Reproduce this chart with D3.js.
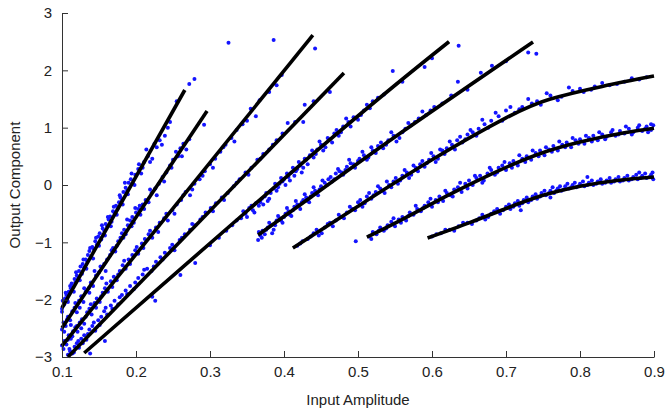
<!DOCTYPE html>
<html>
<head>
<meta charset="utf-8">
<script src="https://cdn.jsdelivr.net/npm/d3@7"></script>
<style>
  html, body { margin: 0; padding: 0; background: #fff; }
  svg { display: block; font-family: "Liberation Sans", Arial, Helvetica, sans-serif; }
</style>
</head>
<body>
<svg id="chart" width="665" height="412"></svg>
<script>
// ---------- data ----------
const xTicks = [0.1, 0.2, 0.3, 0.4, 0.5, 0.6, 0.7, 0.8, 0.9];
const yTicks = [-3, -2, -1, 0, 1, 2, 3];
const xLabel = "Input Amplitude";
const yLabel = "Output Component";

// fitted curves: [input amplitude, output component]
const curve1 = [[0.1,-2.145],[0.266,1.657]];
const curve2 = [[0.1,-2.494],[0.296,1.291]];
const curve3 = [[0.1,-2.808],[0.439,2.616]];
const curve4 = [[0.108,-3.0],[0.481,1.953]];
const curve5 = [[0.130,-2.93],[0.25,-1.58],[0.354,-0.41],[0.45,0.66],[0.55,1.74],[0.623,2.50]];
const curve6 = [[0.365,-0.872],[0.431,-0.262],[0.557,0.902],[0.7365,2.494]];
const curve7 = [[0.412,-1.10],[0.5,-0.37],[0.6,0.44],[0.7,1.17],[0.76,1.50],[0.83,1.72],[0.9,1.90]];
const curve8 = [[0.512,-0.91],[0.56,-0.60],[0.62,-0.19],[0.68,0.19],[0.74,0.52],[0.80,0.75],[0.86,0.91],[0.9,0.99]];
const curve9 = [[0.594,-0.924],[0.65,-0.66],[0.70,-0.41],[0.75,-0.18],[0.80,-0.02],[0.85,0.08],[0.9,0.14]];

// measured points
const dots1 = [[0.100,-2.16],[0.101,-2.02],[0.103,-2.08],[0.104,-1.98],[0.106,-1.92],[0.107,-2.01],[0.109,-1.86],[0.110,-1.90],[0.112,-1.80],[0.113,-1.72],[0.115,-1.78],[0.117,-1.64],[0.118,-1.70],[0.120,-1.58],[0.122,-1.62],[0.123,-1.50],[0.125,-1.42],[0.127,-1.55],[0.128,-1.38],[0.130,-1.44],[0.132,-1.30],[0.134,-1.34],[0.135,-1.22],[0.137,-1.15],[0.139,-1.26],[0.141,-1.08],[0.143,-1.12],[0.145,-0.98],[0.147,-1.04],[0.149,-0.90],[0.151,-0.84],[0.153,-0.95],[0.155,-0.76],[0.157,-0.80],[0.159,-0.68],[0.161,-0.72],[0.163,-0.60],[0.165,-0.55],[0.167,-0.64],[0.169,-0.46],[0.171,-0.50],[0.173,-0.36],[0.175,-0.42],[0.177,-0.30],[0.179,-0.22],[0.181,-0.26],[0.183,-0.12],[0.186,-0.05],[0.188,-0.10],[0.190,0.04],[0.193,0.10],[0.196,0.02],[0.199,0.18],[0.203,0.28],[0.207,0.20],[0.211,0.40],[0.216,0.50],[0.222,0.46],[0.228,0.66],[0.232,0.78],[0.239,0.86],[0.246,1.10],[0.255,1.46],[0.272,1.76],[0.279,1.85],[0.100,-2.21],
  [0.102,-2.10],[0.105,-1.88],[0.108,-2.04],[0.111,-1.76],[0.116,-1.86],[0.119,-1.52],[0.124,-1.66],[0.129,-1.30],[0.133,-1.46],[0.138,-1.10],[0.142,-1.28],[0.146,-0.92],[0.150,-1.06],[0.154,-0.70],[0.158,-0.88],[0.162,-0.56],[0.166,-0.72],[0.170,-0.38],[0.174,-0.52],[0.178,-0.18],[0.182,-0.34],[0.185,0.04],[0.189,-0.16],[0.194,0.20],[0.198,0.00],[0.204,0.36],[0.209,0.30],[0.214,0.62],[0.219,0.40],[0.225,0.72],[0.235,0.70],[0.243,1.00]];
const dots2 = [[0.100,-2.52],[0.102,-2.40],[0.105,-2.46],[0.108,-2.30],[0.111,-2.36],[0.114,-2.20],[0.117,-2.14],[0.120,-2.22],[0.123,-2.02],[0.126,-1.94],[0.129,-2.04],[0.132,-1.86],[0.136,-1.80],[0.139,-1.70],[0.142,-1.76],[0.146,-1.58],[0.150,-1.52],[0.154,-1.62],[0.157,-1.38],[0.161,-1.30],[0.165,-1.22],[0.169,-1.10],[0.172,-1.16],[0.176,-0.98],[0.179,-0.92],[0.181,-0.84],[0.184,-0.78],[0.186,-0.86],[0.189,-0.70],[0.192,-0.62],[0.195,-0.56],[0.197,-0.66],[0.200,-0.48],[0.203,-0.42],[0.206,-0.52],[0.209,-0.34],[0.213,-0.26],[0.217,-0.30],[0.221,-0.14],[0.226,-0.06],[0.231,0.02],[0.236,0.14],[0.241,0.22],[0.246,0.34],[0.250,0.44],[0.254,0.58],[0.257,0.50],[0.260,0.64],[0.264,0.72],[0.268,0.62],[0.272,0.80],[0.292,1.05],
  [0.103,-2.56],[0.107,-2.34],[0.112,-2.44],[0.118,-2.06],[0.124,-2.14],[0.130,-1.80],[0.137,-1.88],[0.144,-1.50],[0.152,-1.42],[0.159,-1.50],[0.167,-1.14],[0.174,-1.06],[0.183,-0.92],[0.188,-0.60],[0.194,-0.72],[0.199,-0.40],[0.205,-0.36],[0.211,-0.42],[0.219,-0.08],[0.228,-0.18],[0.238,0.06],[0.248,0.30],[0.262,0.50]];
const dots3 = [[0.100,-2.80],[0.103,-2.72],[0.106,-2.78],[0.109,-2.62],[0.112,-2.68],[0.115,-2.55],[0.118,-2.48],[0.121,-2.56],[0.124,-2.40],[0.127,-2.34],[0.130,-2.42],[0.134,-2.22],[0.137,-2.16],[0.140,-2.26],[0.144,-2.06],[0.147,-1.98],[0.151,-2.04],[0.155,-1.88],[0.158,-1.80],[0.162,-1.86],[0.166,-1.68],[0.170,-1.60],[0.174,-1.66],[0.178,-1.50],[0.182,-1.40],[0.186,-1.46],[0.190,-1.30],[0.195,-1.22],[0.199,-1.14],[0.203,-1.20],[0.208,-1.02],[0.212,-0.94],[0.217,-0.86],[0.222,-0.92],[0.227,-0.74],[0.232,-0.66],[0.238,-0.58],[0.243,-0.62],[0.249,-0.44],[0.255,-0.34],[0.261,-0.26],[0.267,-0.12],[0.273,-0.18],[0.279,0.02],[0.286,0.10],[0.293,0.24],[0.300,0.36],[0.307,0.46],[0.314,0.58],[0.321,0.70],[0.329,0.82],[0.336,0.96],[0.344,1.06],[0.355,1.33],[0.367,1.48],[0.380,1.62],[0.390,1.74],[0.397,1.92],[0.325,2.48],[0.386,2.53],
  [0.102,-2.86],[0.108,-2.70],[0.114,-2.64],[0.120,-2.46],[0.126,-2.50],[0.132,-2.30],[0.139,-2.08],[0.146,-2.14],[0.153,-1.94],[0.160,-1.72],[0.168,-1.78],[0.176,-1.56],[0.184,-1.32],[0.192,-1.38],[0.201,-1.08],[0.210,-1.10],[0.219,-0.80],[0.230,-0.82],[0.241,-0.50],[0.252,-0.50],[0.264,-0.18],[0.276,-0.08],[0.290,0.16],[0.304,0.30],[0.318,0.66],[0.333,0.76],[0.350,1.12],[0.362,1.20]];
const dots4 = [[0.108,-2.96],[0.111,-2.90],[0.114,-2.94],[0.117,-2.82],[0.120,-2.76],[0.123,-2.84],[0.126,-2.68],[0.130,-2.62],[0.133,-2.70],[0.137,-2.52],[0.141,-2.46],[0.145,-2.54],[0.149,-2.36],[0.153,-2.30],[0.157,-2.20],[0.161,-2.26],[0.166,-2.10],[0.171,-2.02],[0.176,-2.08],[0.181,-1.92],[0.186,-1.84],[0.192,-1.76],[0.197,-1.82],[0.203,-1.62],[0.209,-1.56],[0.215,-1.46],[0.221,-1.50],[0.227,-1.34],[0.233,-1.26],[0.239,-1.18],[0.246,-1.10],[0.252,-1.14],[0.259,-0.96],[0.266,-0.86],[0.273,-0.78],[0.280,-0.70],[0.287,-0.60],[0.294,-0.48],[0.301,-0.40],[0.308,-0.32],[0.316,-0.22],[0.324,-0.14],[0.332,-0.02],[0.340,0.10],[0.348,0.22],[0.356,0.30],[0.364,0.44],[0.372,0.54],[0.380,0.62],[0.390,0.78],[0.405,1.08],[0.426,1.10],[0.428,1.40],[0.440,1.46],[0.462,1.62],
  [0.110,-2.86],[0.116,-2.92],[0.122,-2.72],[0.128,-2.76],[0.135,-2.60],[0.143,-2.40],[0.151,-2.44],[0.159,-2.14],[0.168,-2.16],[0.178,-1.96],[0.188,-1.90],[0.199,-1.70],[0.211,-1.48],[0.224,-1.42],[0.236,-1.30],[0.249,-1.04],[0.262,-0.92],[0.276,-0.68],[0.290,-0.56],[0.304,-0.46],[0.319,-0.26],[0.336,0.04],[0.352,0.18],[0.368,0.46],[0.385,0.70],[0.398,0.90],[0.415,1.10]];
const dots5 = [[0.138,-2.94],[0.158,-2.72],[0.222,-1.95],[0.226,-2.02],[0.260,-1.57],[0.280,-1.36],[0.300,-1.05],[0.312,-0.92],[0.322,-0.80],[0.330,-0.70],[0.336,-0.62],[0.342,-0.58],[0.348,-0.50],[0.353,-0.40],[0.358,-0.44],[0.362,-0.32],[0.366,-0.36],[0.370,-0.24],[0.374,-0.20],[0.378,-0.28],[0.382,-0.14],[0.386,-0.06],[0.390,-0.10],[0.394,0.02],[0.398,0.06],[0.402,0.00],[0.406,0.14],[0.410,0.22],[0.414,0.16],[0.418,0.28],[0.422,0.34],[0.426,0.30],[0.430,0.44],[0.435,0.52],[0.440,0.48],[0.445,0.62],[0.450,0.70],[0.456,0.66],[0.462,0.80],[0.468,0.90],[0.474,0.86],[0.480,1.02],[0.487,1.10],[0.494,1.18],[0.500,1.14],[0.508,1.30],[0.516,1.34],[0.527,1.52],[0.547,1.99],[0.590,2.06],[0.600,2.21],[0.636,2.43],[0.442,2.38],
  [0.345,-0.46],[0.350,-0.56],[0.356,-0.36],[0.360,-0.48],[0.368,-0.30],[0.372,-0.34],[0.376,-0.14],[0.380,-0.24],[0.388,0.02],[0.392,-0.04],[0.396,0.12],[0.400,0.10],[0.404,0.20],[0.408,0.08],[0.412,0.30],[0.416,0.24],[0.420,0.40],[0.424,0.22],[0.428,0.46],[0.432,0.36],[0.438,0.60],[0.443,0.54],[0.448,0.76],[0.453,0.60],[0.459,0.82],[0.465,0.74],[0.471,0.96],[0.477,0.92],[0.484,1.16],[0.490,1.02],[0.504,1.22],[0.512,1.40],[0.520,1.46],[0.535,1.58],[0.560,1.80]];
const dots6 = [[0.365,-0.96],[0.368,-0.88],[0.371,-0.80],[0.374,-0.86],[0.378,-0.74],[0.382,-0.70],[0.386,-0.78],[0.390,-0.62],[0.394,-0.58],[0.398,-0.66],[0.402,-0.50],[0.406,-0.46],[0.410,-0.54],[0.414,-0.38],[0.418,-0.34],[0.422,-0.42],[0.426,-0.26],[0.430,-0.22],[0.434,-0.30],[0.438,-0.14],[0.442,-0.10],[0.446,-0.18],[0.450,-0.02],[0.455,0.04],[0.460,0.10],[0.465,0.06],[0.470,0.20],[0.475,0.24],[0.480,0.18],[0.485,0.32],[0.490,0.38],[0.496,0.30],[0.502,0.46],[0.508,0.52],[0.514,0.48],[0.520,0.60],[0.527,0.68],[0.534,0.64],[0.541,0.78],[0.548,0.86],[0.556,0.82],[0.564,0.98],[0.572,1.04],[0.582,1.16],[0.592,1.22],[0.603,1.36],[0.614,1.42],[0.626,1.56],[0.635,1.80],[0.648,1.66],[0.666,1.96],[0.681,2.08],[0.700,2.16],[0.730,2.31],[0.741,2.29],[0.497,-0.98],
  [0.366,-0.82],[0.370,-0.92],[0.376,-0.78],[0.380,-0.66],[0.384,-0.84],[0.388,-0.70],[0.392,-0.54],[0.396,-0.62],[0.400,-0.56],[0.404,-0.40],[0.408,-0.52],[0.412,-0.44],[0.416,-0.28],[0.420,-0.36],[0.424,-0.30],[0.428,-0.16],[0.432,-0.28],[0.436,-0.20],[0.440,-0.04],[0.444,-0.14],[0.448,-0.08],[0.452,0.08],[0.458,0.00],[0.463,0.14],[0.468,0.10],[0.473,0.28],[0.478,0.22],[0.483,0.26],[0.488,0.44],[0.494,0.36],[0.500,0.42],[0.506,0.58],[0.512,0.44],[0.518,0.66],[0.524,0.56],[0.531,0.74],[0.538,0.70],[0.545,0.92],[0.552,0.76],[0.560,0.92],[0.568,1.08],[0.577,1.10],[0.587,1.28],[0.598,1.30]];
const dots7 = [[0.418,-1.06],[0.425,-0.98],[0.432,-0.94],[0.440,-0.84],[0.447,-0.88],[0.455,-0.74],[0.462,-0.66],[0.470,-0.62],[0.477,-0.56],[0.485,-0.48],[0.492,-0.42],[0.500,-0.30],[0.506,-0.38],[0.512,-0.20],[0.518,-0.24],[0.524,-0.12],[0.530,-0.06],[0.536,-0.14],[0.542,0.00],[0.548,0.06],[0.554,0.02],[0.560,0.16],[0.566,0.22],[0.572,0.18],[0.578,0.30],[0.584,0.36],[0.590,0.32],[0.596,0.44],[0.602,0.50],[0.608,0.46],[0.614,0.60],[0.620,0.64],[0.627,0.70],[0.634,0.78],[0.641,0.74],[0.648,0.88],[0.655,0.92],[0.663,0.98],[0.671,1.06],[0.680,1.12],[0.690,1.20],[0.700,1.30],[0.712,1.26],[0.722,1.36],[0.735,1.42],[0.747,1.40],[0.760,1.56],[0.775,1.54],[0.790,1.64],[0.805,1.62],[0.820,1.72],[0.840,1.74],[0.860,1.80],[0.880,1.84],
  [0.422,-1.02],[0.436,-0.90],[0.444,-0.78],[0.451,-0.84],[0.459,-0.68],[0.466,-0.72],[0.474,-0.52],[0.481,-0.58],[0.489,-0.38],[0.496,-0.44],[0.503,-0.26],[0.509,-0.32],[0.515,-0.14],[0.521,-0.18],[0.527,-0.02],[0.533,-0.10],[0.539,0.06],[0.545,-0.04],[0.551,0.12],[0.557,0.08],[0.563,0.26],[0.569,0.12],[0.575,0.34],[0.581,0.24],[0.587,0.42],[0.593,0.38],[0.599,0.56],[0.605,0.40],[0.611,0.62],[0.617,0.54],[0.624,0.76],[0.631,0.62],[0.638,0.84],[0.645,0.80],[0.652,0.96],[0.660,0.86],[0.668,1.14],[0.676,1.00],[0.686,1.26],[0.695,1.12],[0.706,1.36],[0.718,1.32],[0.730,1.50],[0.742,1.46],[0.755,1.60],[0.770,1.48],[0.785,1.70],[0.800,1.68],[0.815,1.66],[0.830,1.78],[0.850,1.76],[0.870,1.86],[0.890,1.88]];
const dots8 = [[0.515,-0.90],[0.520,-0.82],[0.525,-0.86],[0.530,-0.74],[0.535,-0.80],[0.540,-0.70],[0.545,-0.64],[0.550,-0.72],[0.555,-0.60],[0.560,-0.56],[0.565,-0.62],[0.570,-0.48],[0.575,-0.52],[0.580,-0.42],[0.585,-0.46],[0.590,-0.36],[0.595,-0.30],[0.600,-0.38],[0.605,-0.26],[0.610,-0.20],[0.615,-0.28],[0.620,-0.14],[0.625,-0.18],[0.630,-0.08],[0.635,-0.04],[0.640,-0.12],[0.645,0.02],[0.650,0.08],[0.655,0.00],[0.660,0.12],[0.665,0.16],[0.670,0.08],[0.675,0.20],[0.680,0.26],[0.685,0.18],[0.690,0.30],[0.695,0.34],[0.700,0.26],[0.705,0.38],[0.710,0.42],[0.716,0.34],[0.722,0.46],[0.728,0.50],[0.734,0.44],[0.740,0.56],[0.746,0.60],[0.752,0.52],[0.758,0.62],[0.764,0.68],[0.770,0.60],[0.776,0.70],[0.782,0.74],[0.788,0.66],[0.794,0.78],[0.800,0.80],[0.806,0.72],[0.812,0.82],[0.818,0.86],[0.824,0.78],[0.830,0.88],[0.836,0.84],[0.842,0.92],[0.848,0.86],[0.854,0.94],[0.860,0.90],[0.866,0.98],[0.872,0.92],[0.878,1.00],[0.884,0.94],[0.890,1.02],[0.896,0.96],[0.899,1.04],
  [0.518,-0.94],[0.528,-0.80],[0.538,-0.76],[0.548,-0.58],[0.558,-0.66],[0.568,-0.54],[0.578,-0.36],[0.588,-0.40],[0.598,-0.24],[0.608,-0.30],[0.618,-0.10],[0.628,-0.20],[0.638,0.04],[0.648,-0.06],[0.658,0.16],[0.668,0.04],[0.678,0.30],[0.688,0.22],[0.698,0.40],[0.708,0.30],[0.718,0.52],[0.726,0.40],[0.736,0.60],[0.744,0.50],[0.754,0.66],[0.762,0.58],[0.772,0.76],[0.780,0.66],[0.790,0.82],[0.798,0.72],[0.808,0.86],[0.816,0.76],[0.826,0.92],[0.834,0.80],[0.844,0.96],[0.852,0.88],[0.862,1.02],[0.870,0.88],[0.880,1.04],[0.888,0.98],[0.896,1.06],[0.892,0.92]];
const dots9 = [[0.600,-0.90],[0.612,-0.84],[0.624,-0.78],[0.636,-0.72],[0.648,-0.66],[0.660,-0.62],[0.668,-0.52],[0.676,-0.56],[0.684,-0.46],[0.692,-0.50],[0.700,-0.38],[0.706,-0.42],[0.712,-0.32],[0.718,-0.36],[0.724,-0.26],[0.730,-0.30],[0.736,-0.20],[0.742,-0.24],[0.748,-0.14],[0.754,-0.18],[0.760,-0.10],[0.765,-0.14],[0.770,-0.06],[0.775,-0.10],[0.780,-0.02],[0.785,-0.06],[0.790,0.00],[0.795,-0.04],[0.800,0.02],[0.806,-0.02],[0.812,0.04],[0.818,0.00],[0.824,0.06],[0.830,0.02],[0.836,0.08],[0.842,0.04],[0.848,0.10],[0.854,0.06],[0.860,0.12],[0.866,0.08],[0.872,0.14],[0.878,0.10],[0.884,0.16],[0.890,0.12],[0.896,0.18],[0.899,0.10],[0.720,-0.44],[0.760,-0.22],[0.810,0.14],[0.880,0.22],
  [0.606,-0.86],[0.618,-0.78],[0.630,-0.80],[0.642,-0.66],[0.654,-0.68],[0.664,-0.58],[0.672,-0.60],[0.680,-0.50],[0.688,-0.42],[0.696,-0.44],[0.704,-0.34],[0.710,-0.38],[0.716,-0.28],[0.722,-0.32],[0.728,-0.22],[0.734,-0.26],[0.740,-0.16],[0.746,-0.20],[0.752,-0.10],[0.758,-0.14],[0.763,-0.04],[0.768,-0.10],[0.773,-0.02],[0.778,-0.08],[0.783,0.02],[0.788,-0.04],[0.793,0.04],[0.798,-0.02],[0.804,0.06],[0.810,0.00],[0.816,0.08],[0.822,0.02],[0.828,0.10],[0.834,0.04],[0.840,0.12],[0.846,0.06],[0.852,0.14],[0.858,0.08],[0.864,0.16],[0.870,0.10],[0.876,0.18],[0.882,0.12],[0.888,0.20],[0.894,0.14],[0.898,0.22]];

const curves = [curve1, curve2, curve3, curve4, curve5, curve6, curve7, curve8, curve9];
const dotSets = [dots1, dots2, dots3, dots4, dots5, dots6, dots7, dots8, dots9];

// ---------- layout ----------
const W = 665, H = 412;
const margin = { left: 62, right: 11, top: 13, bottom: 55 };
const svg = d3.select("#chart");

const x = d3.scaleLinear().domain([0.1, 0.9]).range([margin.left, W - margin.right]);
const y = d3.scaleLinear().domain([-3, 3]).range([H - margin.bottom, margin.top]);

// dots
const dotG = svg.append("g");
dotSets.forEach(set => {
  dotG.selectAll(null).data(set).enter().append("circle")
    .attr("cx", d => x(d[0]))
    .attr("cy", d => y(d[1]))
    .attr("r", 2)
    .attr("fill", "#1414ff");
});

// curves
const line = d3.line().x(d => x(d[0])).y(d => y(d[1])).curve(d3.curveNatural);
svg.append("g").selectAll("path").data(curves).enter().append("path")
  .attr("d", line)
  .attr("fill", "none")
  .attr("stroke", "#000")
  .attr("stroke-width", 3.6)
  .attr("stroke-linecap", "butt");

// axes
const xAxis = d3.axisBottom(x).tickValues(xTicks).tickFormat(d3.format(".1f"))
  .tickSizeInner(-6).tickSizeOuter(0).tickPadding(9);
const yAxis = d3.axisLeft(y).tickValues(yTicks).tickFormat(d3.format("d"))
  .tickSizeInner(-6).tickSizeOuter(0).tickPadding(10);

const gx = svg.append("g").attr("transform", `translate(0,${y(-3)})`).call(xAxis);
const gy = svg.append("g").attr("transform", `translate(${x(0.1)},0)`).call(yAxis);
[gx, gy].forEach(g => {
  g.selectAll("path, line").attr("stroke", "#333").attr("stroke-width", 1);
  g.selectAll("text").attr("fill", "#222").style("font-size", "15px");
});

svg.append("text")
  .attr("x", (x(0.1) + x(0.9)) / 2).attr("y", 405)
  .attr("text-anchor", "middle").attr("fill", "#222").style("font-size", "15px")
  .text(xLabel);
svg.append("text")
  .attr("transform", `translate(20,${(y(-3) + y(3)) / 2}) rotate(-90)`)
  .attr("text-anchor", "middle").attr("fill", "#222").style("font-size", "15px")
  .text(yLabel);
</script>
</body>
</html>
